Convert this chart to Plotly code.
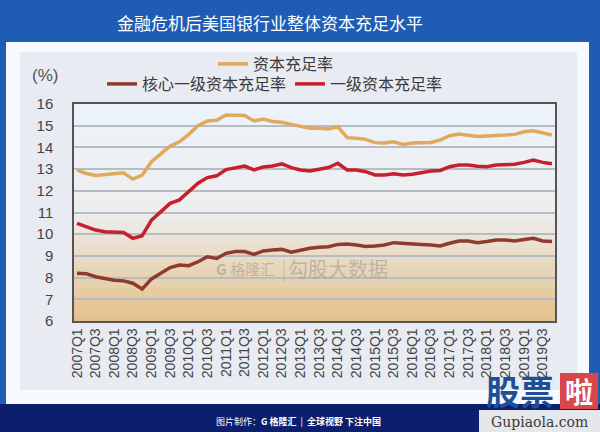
import plotly.graph_objects as go

# ---------------- data ----------------
years = list(range(2007, 2020))
quarters = [f"{y}Q{q}" for y in years for q in (1, 2, 3, 4)]  # 2007Q1 .. 2019Q4 (52)

total_capital = [12.95, 12.80, 12.71, 12.75, 12.78, 12.83, 12.54, 12.72, 13.34, 13.68,
                 14.06, 14.26, 14.60, 15.00, 15.22, 15.25, 15.49, 15.48, 15.47, 15.22,
                 15.31, 15.19, 15.16, 15.06, 14.95, 14.88, 14.88, 14.85, 14.95, 14.45,
                 14.42, 14.37, 14.22, 14.20, 14.26, 14.14, 14.20, 14.23, 14.23, 14.34,
                 14.54, 14.62, 14.57, 14.50, 14.53, 14.57, 14.57, 14.60, 14.72, 14.77,
                 14.65, 14.57]
tier1 = [10.50, 10.35, 10.19, 10.11, 10.10, 10.08, 9.81, 9.93, 10.65, 11.04,
         11.42, 11.58, 11.96, 12.35, 12.61, 12.69, 12.98, 13.07, 13.14, 12.96,
         13.10, 13.14, 13.24, 13.07, 12.96, 12.91, 13.00, 13.07, 13.27, 12.96,
         12.96, 12.88, 12.73, 12.73, 12.79, 12.73, 12.76, 12.85, 12.91, 12.94,
         13.11, 13.19, 13.19, 13.13, 13.11, 13.19, 13.22, 13.22, 13.31, 13.42,
         13.31, 13.25]
core_tier1 = [8.20, 8.18, 8.04, 7.94, 7.88, 7.85, 7.74, 7.47, 7.94, 8.20,
              8.46, 8.58, 8.55, 8.73, 8.96, 8.88, 9.12, 9.20, 9.20, 9.07,
              9.23, 9.27, 9.30, 9.17, 9.27, 9.35, 9.40, 9.42, 9.53, 9.55,
              9.50, 9.43, 9.46, 9.50, 9.61, 9.57, 9.57, 9.53, 9.50, 9.46,
              9.58, 9.69, 9.69, 9.61, 9.66, 9.73, 9.73, 9.69, 9.76, 9.81,
              9.69, 9.66]

name_total = "资本充足率"
name_core = "核心一级资本充足率"
name_tier1 = "一级资本充足率"
title_text = "金融危机后美国银行业整体资本充足水平"
y_ticks = [6, 7, 8, 9, 10, 11, 12, 13, 14, 15, 16]

# ---------------- layout geometry (pixels) ----------------
W, H = 600, 432
PL, PR, PT, PB = 74, 555, 104, 321   # plot area edges


def px(x):
    return (x - PL) / (PR - PL)


def py(y):
    return (PB - y) / (PB - PT)


CJK = "Noto Sans CJK SC"
xidx = list(range(len(quarters)))

fig = go.Figure()
fig.add_trace(go.Scatter(x=xidx, y=total_capital, name=name_total, mode="lines",
                         line=dict(color="#e0a95c", width=3.5), legend="legend"))
fig.add_trace(go.Scatter(x=xidx, y=core_tier1, name=name_core, mode="lines",
                         line=dict(color="#8e3b2f", width=3.5), legend="legend2"))
fig.add_trace(go.Scatter(x=xidx, y=tier1, name=name_tier1, mode="lines",
                         line=dict(color="#c81f2d", width=3.5), legend="legend3"))

shapes = []
# outer background bands
shapes.append(dict(type="rect", xref="paper", yref="paper", x0=px(0), x1=px(W), y0=py(0), y1=py(404),
                   fillcolor="#1f5db5", line_width=0, layer="below"))
shapes.append(dict(type="rect", xref="paper", yref="paper", x0=px(0), x1=px(W), y0=py(404), y1=py(H),
                   fillcolor="#0c1e6c", line_width=0, layer="below"))
# white panel
shapes.append(dict(type="rect", xref="paper", yref="paper", x0=px(6), x1=px(589), y0=py(42), y1=py(404),
                   fillcolor="#f6f9fd", line_width=0, layer="below"))
# inner gray panel
shapes.append(dict(type="rect", xref="paper", yref="paper", x0=px(20), x1=px(577), y0=py(52), y1=py(390),
                   fillcolor="#e8ebf1", line_width=0, layer="below"))


# plot area gradient (top light blue -> light gray -> tan)
def lerp(c1, c2, t):
    return tuple(round(a + (b - a) * t) for a, b in zip(c1, c2))


top_c, mid_c, bot_c = (236, 243, 251), (238, 238, 238), (226, 192, 138)
nb = 60
for k in range(nb):
    t = (k + 0.5) / nb
    c = lerp(top_c, mid_c, t / 0.5) if t < 0.5 else lerp(mid_c, bot_c, (t - 0.5) / 0.5)
    y0 = 1 - k / nb
    y1 = 1 - (k + 1) / nb
    shapes.append(dict(type="rect", xref="paper", yref="paper", x0=0, x1=1, y0=y1, y1=y0 + 0.002,
                       fillcolor="rgb(%d,%d,%d)" % c, line_width=0, layer="below"))

# watermark box for Gupiaola
shapes.append(dict(type="rect", xref="paper", yref="paper", x0=px(479), x1=px(600), y0=py(410), y1=py(432),
                   fillcolor="rgba(242,242,242,0.95)", line_width=0, layer="above"))
shapes.append(dict(type="rect", xref="paper", yref="paper", x0=px(560), x1=px(598), y0=py(373), y1=py(409),
                   fillcolor="#d9474b", line_width=0, layer="above"))

annotations = [
    dict(text=title_text, x=px(270), y=py(22), xref="paper", yref="paper", showarrow=False,
         font=dict(family=CJK, size=17, color="white"), xanchor="center", yanchor="middle"),
    dict(text="(%)", x=px(45), y=py(75), xref="paper", yref="paper", showarrow=False,
         font=dict(family="Liberation Sans", size=17, color="#555"), xanchor="center", yanchor="middle"),
    # chart watermark
    dict(text="<b>G</b> 格隆汇", x=px(245), y=py(268), xref="paper", yref="paper", showarrow=False,
         font=dict(family=CJK, size=15, color="rgba(150,150,150,0.55)"), xanchor="center", yanchor="middle"),
    dict(text="|", x=px(283), y=py(268), xref="paper", yref="paper", showarrow=False,
         font=dict(family=CJK, size=20, color="rgba(170,170,170,0.5)"), xanchor="center", yanchor="middle"),
    dict(text="勾股大数据", x=px(338), y=py(268), xref="paper", yref="paper", showarrow=False,
         font=dict(family=CJK, size=20, color="rgba(150,150,150,0.55)"), xanchor="center", yanchor="middle"),
    # footer
    dict(text="图片制作：<b>G 格隆汇</b>  |  <b>全球视野 下注中国</b>", x=px(298), y=py(421), xref="paper",
         yref="paper", showarrow=False, font=dict(family=CJK, size=9, color="white"),
         xanchor="center", yanchor="middle"),
    # site watermark
    dict(text="<b>股票</b>", x=px(520), y=py(390), xref="paper", yref="paper", showarrow=False,
         font=dict(family=CJK, size=34, color="#1d4f98"), xanchor="center", yanchor="middle"),
    dict(text="<b>啦</b>", x=px(579), y=py(391), xref="paper", yref="paper", showarrow=False,
         font=dict(family=CJK, size=28, color="white"), xanchor="center", yanchor="middle"),
    dict(text="Gupiaola.com", x=px(539), y=py(422), xref="paper", yref="paper", showarrow=False,
         font=dict(family="DejaVu Serif", size=14, color="#3a3a3a"), xanchor="center", yanchor="middle"),
]

leg_common = dict(orientation="h", xanchor="left", yanchor="middle", bgcolor="rgba(0,0,0,0)",
                  font=dict(family=CJK, size=16, color="#3a3a3a"), itemwidth=30, tracegroupgap=0)

fig.update_layout(
    width=W, height=H,
    margin=dict(l=PL, r=W - PR, t=PT, b=H - PB, pad=0, autoexpand=False),
    paper_bgcolor="#1f5db5",
    plot_bgcolor="rgba(0,0,0,0)",
    shapes=shapes,
    annotations=annotations,
    showlegend=True,
    legend=dict(x=px(213), y=py(64), **leg_common),
    legend2=dict(x=px(102), y=py(84), **leg_common),
    legend3=dict(x=px(290), y=py(84), **leg_common),
    xaxis=dict(range=[-0.32, len(quarters) - 1 + 0.32], tickmode="array",
               tickvals=xidx[::2], ticktext=quarters[::2], tickangle=-90,
               tickfont=dict(family="Liberation Sans", size=14, color="#444"),
               showgrid=False, zeroline=False, showline=True, linecolor="#555", linewidth=1.5,
               mirror=True, ticks="", automargin=False),
    yaxis=dict(range=[6, 16], tickmode="array", tickvals=y_ticks,
               tickfont=dict(family="Liberation Sans", size=15, color="#444"),
               showgrid=True, gridcolor="#b7bbc2", gridwidth=2, zeroline=False,
               showline=True, linecolor="#555", linewidth=1.5, mirror=True, ticks="",
               ticklabelstandoff=16, automargin=False),
)

fig.write_html("out.html", config={"displayModeBar": False},
               post_script="document.body.style.margin='0';")
